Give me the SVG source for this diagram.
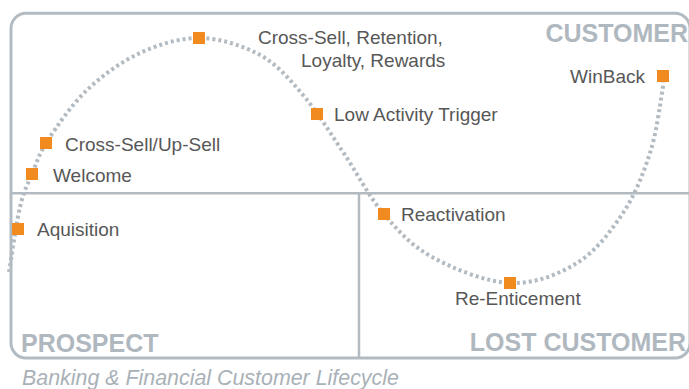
<svg xmlns="http://www.w3.org/2000/svg" width="689" height="389" viewBox="0 0 689 389">
<style>
.frame{fill:none;stroke:#b3bbc2;stroke-width:3}
.div{fill:none;stroke:#b3bbc2;stroke-width:2.5}
.curve{fill:none;stroke:#b3bbc2;stroke-width:4;stroke-dasharray:3 3}
.sq{fill:#f18a1f}
.lbl{font-family:"Liberation Sans",Arial,sans-serif;font-size:19px;fill:#575757}
.zone{font-family:"Liberation Sans",Arial,sans-serif;font-size:25px;font-weight:bold;fill:#b0b8bf}
.cap{font-family:"Liberation Sans",Arial,sans-serif;font-size:21.4px;font-style:italic;fill:#a9b1b8}
</style>
<rect width="689" height="389" fill="#ffffff"/>
<g id="frame">
<rect class="frame" x="11" y="13.3" width="679" height="344.7" rx="15" ry="15"/>
<line class="div" x1="11" y1="193.3" x2="690" y2="193.3"/>
<line class="div" x1="359" y1="193.3" x2="359" y2="358"/>
</g>
<g id="zones">
<text class="zone" x="688" y="42" text-anchor="end">CUSTOMER</text>
<text class="zone" x="21" y="352">PROSPECT</text>
<text class="zone" x="686" y="351" text-anchor="end">LOST CUSTOMER</text>
</g>
<g id="connectors">
<path class="curve" d="M9,272 C10.8,261.2 16.2,223.3 20,207 C23.8,190.7 27.3,185.2 32,174 C36.7,162.8 38.8,154 48,140 C57.2,126 71.7,104.5 87,90 C102.3,75.5 121.2,61.7 140,53 C158.8,44.3 180,37.7 200,38 C220,38.3 242.8,45.5 260,55 C277.2,64.5 289.2,78.8 303,95 C316.8,111.2 329.7,132.3 343,152 C356.3,171.7 368.2,195.5 383,213 C397.8,230.5 410.8,245.3 432,257 C453.2,268.7 485.8,282 510,283 C534.2,284 558.2,274.7 577,263 C595.8,251.3 610.8,231.3 623,213 C635.2,194.7 643.5,173 650,153 C656.5,133 659.8,105.8 662,93 C664.2,80.2 662.8,78.8 663,76"/>
</g>
<g id="node-acquisition"><rect class="sq" x="12" y="223" width="12" height="12"/><text class="lbl" x="37" y="236">Aquisition</text></g>
<g id="node-welcome"><rect class="sq" x="26" y="168" width="12" height="12"/><text class="lbl" x="53" y="182">Welcome</text></g>
<g id="node-crosssell-upsell"><rect class="sq" x="40" y="137" width="12" height="12"/><text class="lbl" x="65" y="151">Cross-Sell/Up-Sell</text></g>
<g id="node-retention"><rect class="sq" x="193" y="32" width="12" height="12"/><text class="lbl" x="258" y="44">Cross-Sell, Retention,</text><text class="lbl" x="301" y="67">Loyalty, Rewards</text></g>
<g id="node-low-activity"><rect class="sq" x="311" y="108" width="12" height="12"/><text class="lbl" x="334" y="121">Low Activity Trigger</text></g>
<g id="node-reactivation"><rect class="sq" x="378" y="208" width="12" height="12"/><text class="lbl" x="401" y="221">Reactivation</text></g>
<g id="node-reenticement"><rect class="sq" x="504" y="277" width="12" height="12"/><text class="lbl" x="455" y="305">Re-Enticement</text></g>
<g id="node-winback"><rect class="sq" x="657" y="70" width="12" height="12"/><text class="lbl" x="645" y="83" text-anchor="end">WinBack</text></g>
<text class="cap" x="22" y="385">Banking &amp; Financial Customer Lifecycle</text>
</svg>
